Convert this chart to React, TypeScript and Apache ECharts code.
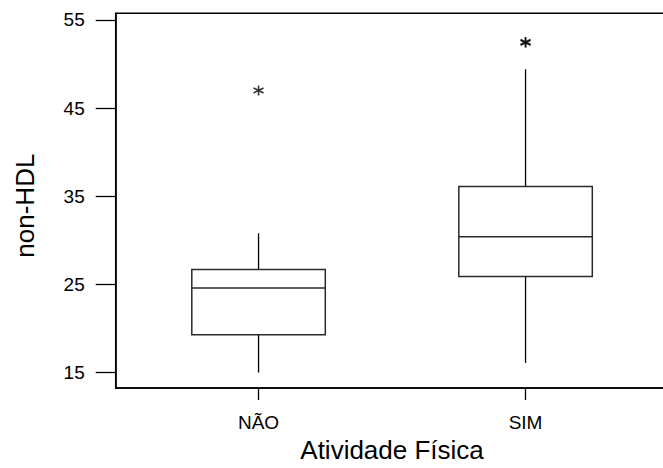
import React, { useEffect, useRef } from "react";
import * as echarts from "echarts";

const categories = ["NÃO", "SIM"];
const whiskerLow = [15.0, 16.1];
const q1Values = [19.3, 25.9];
const medianValues = [24.6, 30.4];
const q3Values = [26.7, 36.1];
const whiskerHigh = [30.8, 49.4];
const outlierGroup = [1, 2, 2];
const outlierValues = [47.0, 52.4, 52.5];
const yTicks = [15, 25, 35, 45, 55];
const xTicks = [1, 2];

const FONT = "'Liberation Sans', Arial, Helvetica, sans-serif";
const BOX_WIDTH = 0.5;

export default function App() {
  const ref = useRef<HTMLDivElement>(null);
  useEffect(() => {
    if (!ref.current) return;
    const chart = echarts.init(ref.current, null, { renderer: "svg" });
    const boxData = categories.map((_, i) => [
      i + 1,
      whiskerLow[i],
      q1Values[i],
      medianValues[i],
      q3Values[i],
      whiskerHigh[i],
    ]);
    const outlierData = outlierValues.map((v, i) => [outlierGroup[i], v]);
    const stroke = "#000";
    chart.setOption({
      animation: false,
      backgroundColor: "#fff",
      grid: {
        left: 115.7,
        top: 13.3,
        width: 552.7,
        height: 378,
        show: true,
        borderColor: "#000",
        borderWidth: 1.5,
        backgroundColor: "transparent",
      },
      xAxis: {
        type: "value",
        min: 0.465,
        max: 2.535,
        axisLine: { show: true, lineStyle: { color: "#000", width: 1.5 } },
        axisTick: {
          show: true,
          customValues: xTicks,
          length: 12,
          inside: false,
          lineStyle: { color: "#000", width: 1.3 },
        },
        axisLabel: {
          customValues: xTicks,
          formatter: (v: number) => categories[Math.round(v) - 1] ?? "",
          margin: 25,
          fontSize: 19,
          color: "#000",
          fontFamily: FONT,
        },
        splitLine: { show: false },
        name: "Atividade Física",
        nameLocation: "middle",
        nameGap: 49,
        nameTextStyle: { fontSize: 26, color: "#000", fontFamily: FONT },
      },
      yAxis: {
        type: "value",
        min: 13.25,
        max: 55.75,
        axisLine: { show: true, lineStyle: { color: "#000", width: 1.5 } },
        axisTick: {
          show: true,
          customValues: yTicks,
          length: 20,
          inside: false,
          lineStyle: { color: "#000", width: 1.3 },
        },
        axisLabel: {
          customValues: yTicks,
          margin: 31,
          fontSize: 19,
          color: "#000",
          fontFamily: FONT,
        },
        splitLine: { show: false },
        name: "non-HDL",
        nameLocation: "middle",
        nameGap: 78,
        nameTextStyle: {
          fontSize: 26,
          color: "#000",
          fontFamily: FONT,
          padding: [0, 10, 0, 0],
        },
      },
      series: [
        {
          type: "custom",
          data: boxData,
          encode: { x: 0, y: [1, 2, 3, 4, 5] },
          renderItem: (params: any, api: any) => {
            const x = api.value(0);
            const lo = api.coord([x, api.value(1)]);
            const q1 = api.coord([x, api.value(2)]);
            const med = api.coord([x, api.value(3)]);
            const q3 = api.coord([x, api.value(4)]);
            const hi = api.coord([x, api.value(5)]);
            const half = api.size([BOX_WIDTH, 0])[0] / 2;
            const lineStyle = { stroke, lineWidth: 1.3 };
            const boxStyle = { stroke: "#2a2a2a", lineWidth: 1.5, fill: "none" };
            return {
              type: "group",
              children: [
                { type: "line", shape: { x1: hi[0], y1: hi[1], x2: q3[0], y2: q3[1] }, style: lineStyle },
                { type: "line", shape: { x1: lo[0], y1: lo[1], x2: q1[0], y2: q1[1] }, style: lineStyle },
                {
                  type: "rect",
                  shape: { x: q3[0] - half, y: q3[1], width: 2 * half, height: q1[1] - q3[1] },
                  style: boxStyle,
                },
                {
                  type: "line",
                  shape: { x1: med[0] - half, y1: med[1], x2: med[0] + half, y2: med[1] },
                  style: boxStyle,
                },
              ],
            };
          },
        },
        {
          type: "scatter",
          data: outlierData,
          symbol: "path://M5 0L5 10M0.67 2.5L9.33 7.5M0.67 7.5L9.33 2.5",
          symbolSize: 10,
          itemStyle: { color: "none", borderColor: "#000", borderWidth: 1.6 },
        },
      ],
    });
    return () => chart.dispose();
  }, []);
  return (
    <div
      ref={ref}
      style={{ position: "fixed", left: 0, top: 0, width: 680, height: 468 }}
    />
  );
}
